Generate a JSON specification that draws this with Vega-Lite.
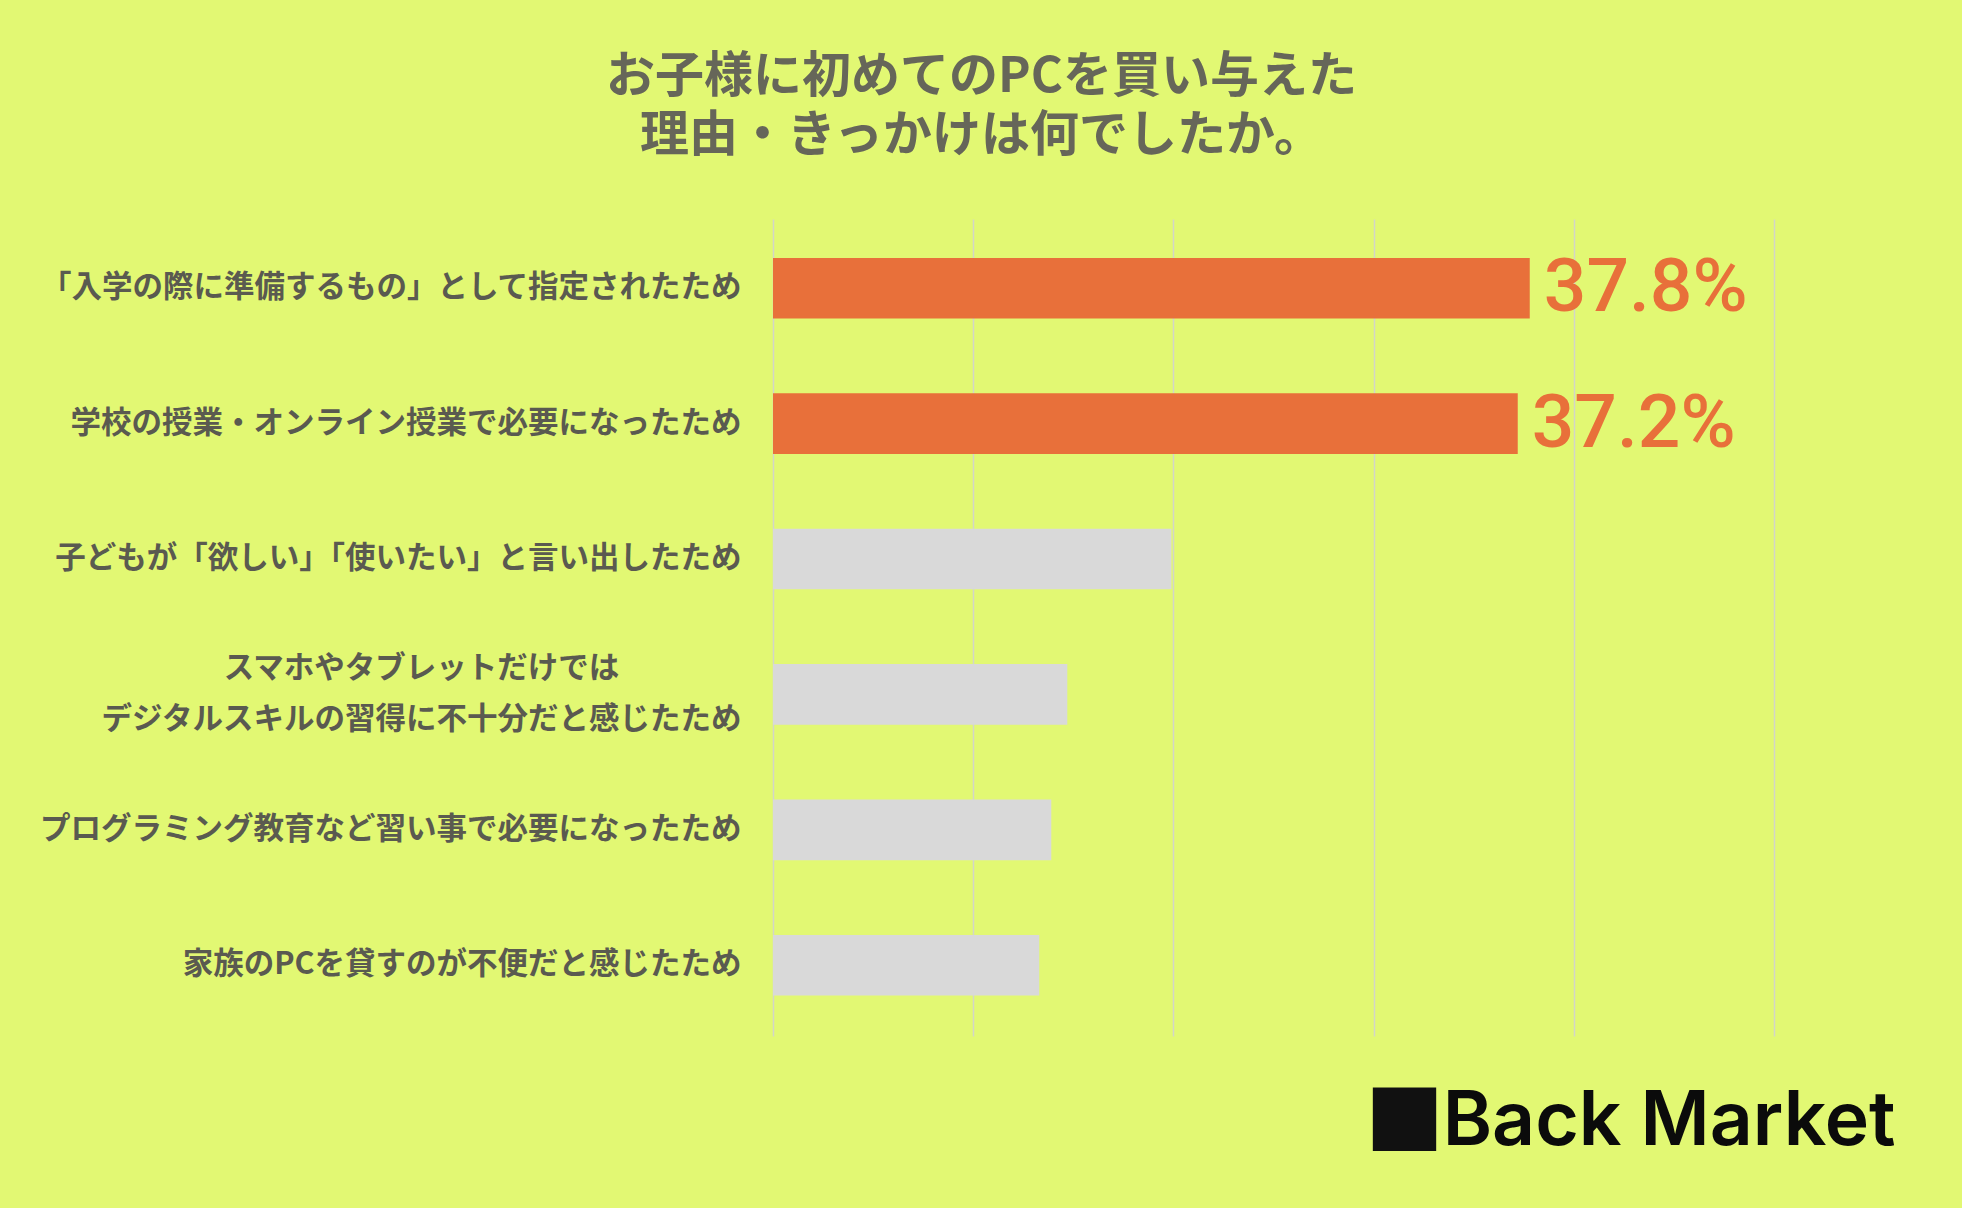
{
  "$schema": "https://vega.github.io/schema/vega-lite/v6.json",
  "autosize": {"type": "none"},
  "width": 1001,
  "height": 817,
  "padding": {"left": 773, "top": 219, "right": 188, "bottom": 172},
  "background": "#E2F873",
  "title": {
    "text": ["お子様に初めてのPCを買い与えた", "理由・きっかけは何でしたか。"],
    "font": "Noto Sans CJK JP",
    "fontSize": 49,
    "fontWeight": "bold",
    "color": "#666659",
    "lineHeight": 59,
    "anchor": "middle",
    "dx": -292,
    "offset": 58
  },
  "data": {
    "values": [
      {"reason": "「入学の際に準備するもの」として指定されたため", "share": 0.378},
      {"reason": "学校の授業・オンライン授業で必要になったため", "share": 0.372},
      {"reason": "子どもが「欲しい」「使いたい」と言い出したため", "share": 0.199},
      {"reason": "スマホやタブレットだけでは\nデジタルスキルの習得に不十分だと感じたため", "share": 0.147},
      {"reason": "プログラミング教育など習い事で必要になったため", "share": 0.139},
      {"reason": "家族のPCを貸すのが不便だと感じたため", "share": 0.133}
    ]
  },
  "encoding": {
    "y": {
      "field": "reason",
      "type": "nominal",
      "sort": null,
      "scale": {"paddingInner": 0.552, "paddingOuter": 0.293, "align": 0.49},
      "axis": {
        "title": "■",
        "titleAngle": 0,
        "titleX": 631,
        "titleY": 896,
        "titleAlign": "center",
        "titleBaseline": "middle",
        "titleFont": "DejaVu Sans",
        "titleFontSize": 83,
        "titleFontWeight": "normal",
        "titleColor": "#111111",
        "labelExpr": "split(datum.label, '\\n')",
        "labelFont": "Noto Sans CJK JP",
        "labelFontSize": 30.5,
        "labelFontWeight": "bold",
        "labelColor": "#5A5A50",
        "labelLineHeight": 51,
        "labelLimit": 0,
        "labelPadding": {"condition": {"test": "indexof(datum.value, 'スマホ') == 0", "value": 352}, "value": 32},
        "labelAlign": {"condition": {"test": "indexof(datum.value, 'スマホ') == 0", "value": "center"}, "value": "right"},
        "labelOffset": {"condition": {"test": "indexof(datum.value, 'スマホ') == 0", "value": -25}, "value": 0},
        "ticks": false,
        "domain": false,
        "grid": false
      }
    },
    "x": {
      "field": "share",
      "type": "quantitative",
      "scale": {"domain": [0, 0.5], "nice": false},
      "axis": {
        "values": [0, 0.1, 0.2, 0.3, 0.4, 0.5],
        "labels": false,
        "ticks": false,
        "domain": false,
        "grid": true,
        "gridColor": "#D3D5C8",
        "gridWidth": 1.5,
        "title": "Back Market",
        "titleFont": "Inter",
        "titleFontSize": 75,
        "titleFontWeight": 600,
        "titleColor": "#0B0B0B",
        "titleX": 1122,
        "titleY": 108,
        "titleAlign": "right",
        "titleBaseline": "alphabetic"
      }
    }
  },
  "layer": [
    {
      "mark": {"type": "bar"},
      "encoding": {
        "color": {"condition": {"test": "datum.share > 0.3", "value": "#E8703A"}, "value": "#D9D9D9"}
      }
    },
    {
      "transform": [{"filter": "datum.share > 0.3"}],
      "mark": {"type": "text", "align": "left", "baseline": "middle", "dx": 14, "font": "Roboto", "fontSize": 75, "fontWeight": 500, "color": "#E8703A"},
      "encoding": {"text": {"field": "share", "type": "quantitative", "format": ".1%"}}
    }
  ],
  "config": {"view": {"stroke": null}}
}
